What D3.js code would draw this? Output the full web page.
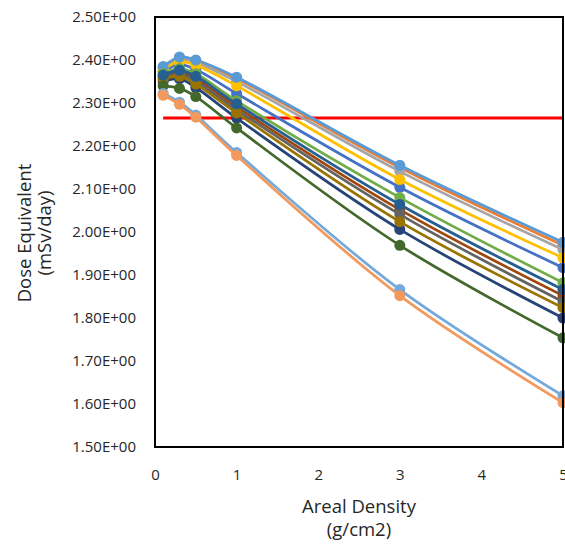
<!DOCTYPE html>
<html><head><meta charset="utf-8">
<script src="https://cdn.jsdelivr.net/npm/d3@7"></script>
<style>body{margin:0;background:#fff}svg{display:block}text{font-family:"Open Sans",sans-serif;fill:#262626}</style>
</head><body>
<svg id="c" width="565" height="546"></svg>
<script>
const xValues = [0.1, 0.3, 0.5, 1, 3, 5];
const yTicks = [1.5, 1.6, 1.7, 1.8, 1.9, 2.0, 2.1, 2.2, 2.3, 2.4, 2.5];
const xTicks = [0, 1, 2, 3, 4, 5];
const limitValue = 2.265;
const limitRange = [0.1, 5];

const s01 = [2.373, 2.389, 2.378, 2.322, 2.104, 1.917];
const s02 = [2.383, 2.405, 2.398, 2.357, 2.150, 1.969];
const s03 = [2.380, 2.401, 2.394, 2.350, 2.141, 1.959];
const s04 = [2.377, 2.396, 2.388, 2.340, 2.122, 1.940];
const s05 = [2.385, 2.407, 2.400, 2.360, 2.155, 1.976];
const s06 = [2.368, 2.380, 2.368, 2.305, 2.080, 1.882];
const s07 = [2.350, 2.356, 2.336, 2.265, 2.006, 1.800];
const s08 = [2.362, 2.372, 2.356, 2.291, 2.052, 1.852];
const s09 = [2.358, 2.367, 2.350, 2.284, 2.041, 1.838];
const s10 = [2.355, 2.362, 2.344, 2.277, 2.024, 1.824];
const s11 = [2.365, 2.376, 2.362, 2.298, 2.064, 1.866];
const s12 = [2.340, 2.334, 2.315, 2.242, 1.969, 1.754];
const s13 = [2.322, 2.302, 2.272, 2.185, 1.866, 1.619];
const s14 = [2.318, 2.297, 2.267, 2.178, 1.852, 1.603];
const seriesValues = [s01, s02, s03, s04, s05, s06, s07, s08, s09, s10, s11, s12, s13, s14];
const seriesColors = ["#4472C4", "#ED7D31", "#A5A5A5", "#FFC000", "#5B9BD5", "#70AD47",
  "#264478", "#9E480E", "#636363", "#997300", "#255E91", "#43682B", "#74A9DC", "#F29A5E"];

const svg = d3.select("#c");
const L = 155, R = 563, T = 17, B = 447;
const x = d3.scaleLinear().domain([0, 5]).range([L, R]);
const y = d3.scaleLinear().domain([1.5, 2.5]).range([B, T]);

// limit line (behind)
svg.append("line")
  .attr("x1", x(limitRange[0])).attr("x2", x(limitRange[1]))
  .attr("y1", y(limitValue)).attr("y2", y(limitValue))
  .attr("stroke", "#FF0000").attr("stroke-width", 3);

const line = d3.line().x((d, i) => x(xValues[i])).y(d => y(d)).curve(d3.curveCatmullRom.alpha(0.5));

seriesValues.forEach((vals, k) => {
  const g = svg.append("g");
  g.append("path").attr("d", line(vals)).attr("fill", "none")
    .attr("stroke", seriesColors[k]).attr("stroke-width", 2.75).attr("stroke-linejoin", "round");
  g.selectAll("circle").data(vals).join("circle")
    .attr("cx", (d, i) => x(xValues[i])).attr("cy", d => y(d)).attr("r", 5.5)
    .attr("fill", seriesColors[k]);
});

// frame
svg.append("rect").attr("x", L).attr("y", T).attr("width", R - L).attr("height", B - T)
  .attr("fill", "none").attr("stroke", "#000").attr("stroke-width", 2);

// axes (labels only)
const yAxis = d3.axisLeft(y).tickValues(yTicks).tickSize(0).tickPadding(0)
  .tickFormat(d => d3.format(".2f")(d) + "E+00");
const ya = svg.append("g").attr("transform", `translate(${L - 19},0)`).call(yAxis);
ya.select(".domain").remove();
ya.selectAll("text").attr("font-size", 15).style("font-family", '"Open Sans",sans-serif').attr("fill", "#262626");

const xAxis = d3.axisBottom(x).tickValues(xTicks).tickSize(0).tickPadding(0).tickFormat(d3.format("d"));
const xa = svg.append("g").attr("transform", `translate(0,${B + 22})`).call(xAxis);
xa.select(".domain").remove();
xa.selectAll("text").attr("font-size", 15).style("font-family", '"Open Sans",sans-serif').attr("fill", "#262626");

// titles
const xt = svg.append("text").attr("text-anchor", "middle").attr("font-size", 18.5);
xt.append("tspan").attr("x", (L + R) / 2).attr("y", 513).text("Areal Density");
xt.append("tspan").attr("x", (L + R) / 2).attr("y", 536).text("(g/cm2)");

const yt = svg.append("text").attr("text-anchor", "middle").attr("font-size", 18.5)
  .attr("transform", "translate(0,233) rotate(-90)");
yt.append("tspan").attr("x", 0).attr("y", 31).text("Dose Equivalent");
yt.append("tspan").attr("x", 0).attr("y", 51).text("(mSv/day)");
</script>
</body></html>
